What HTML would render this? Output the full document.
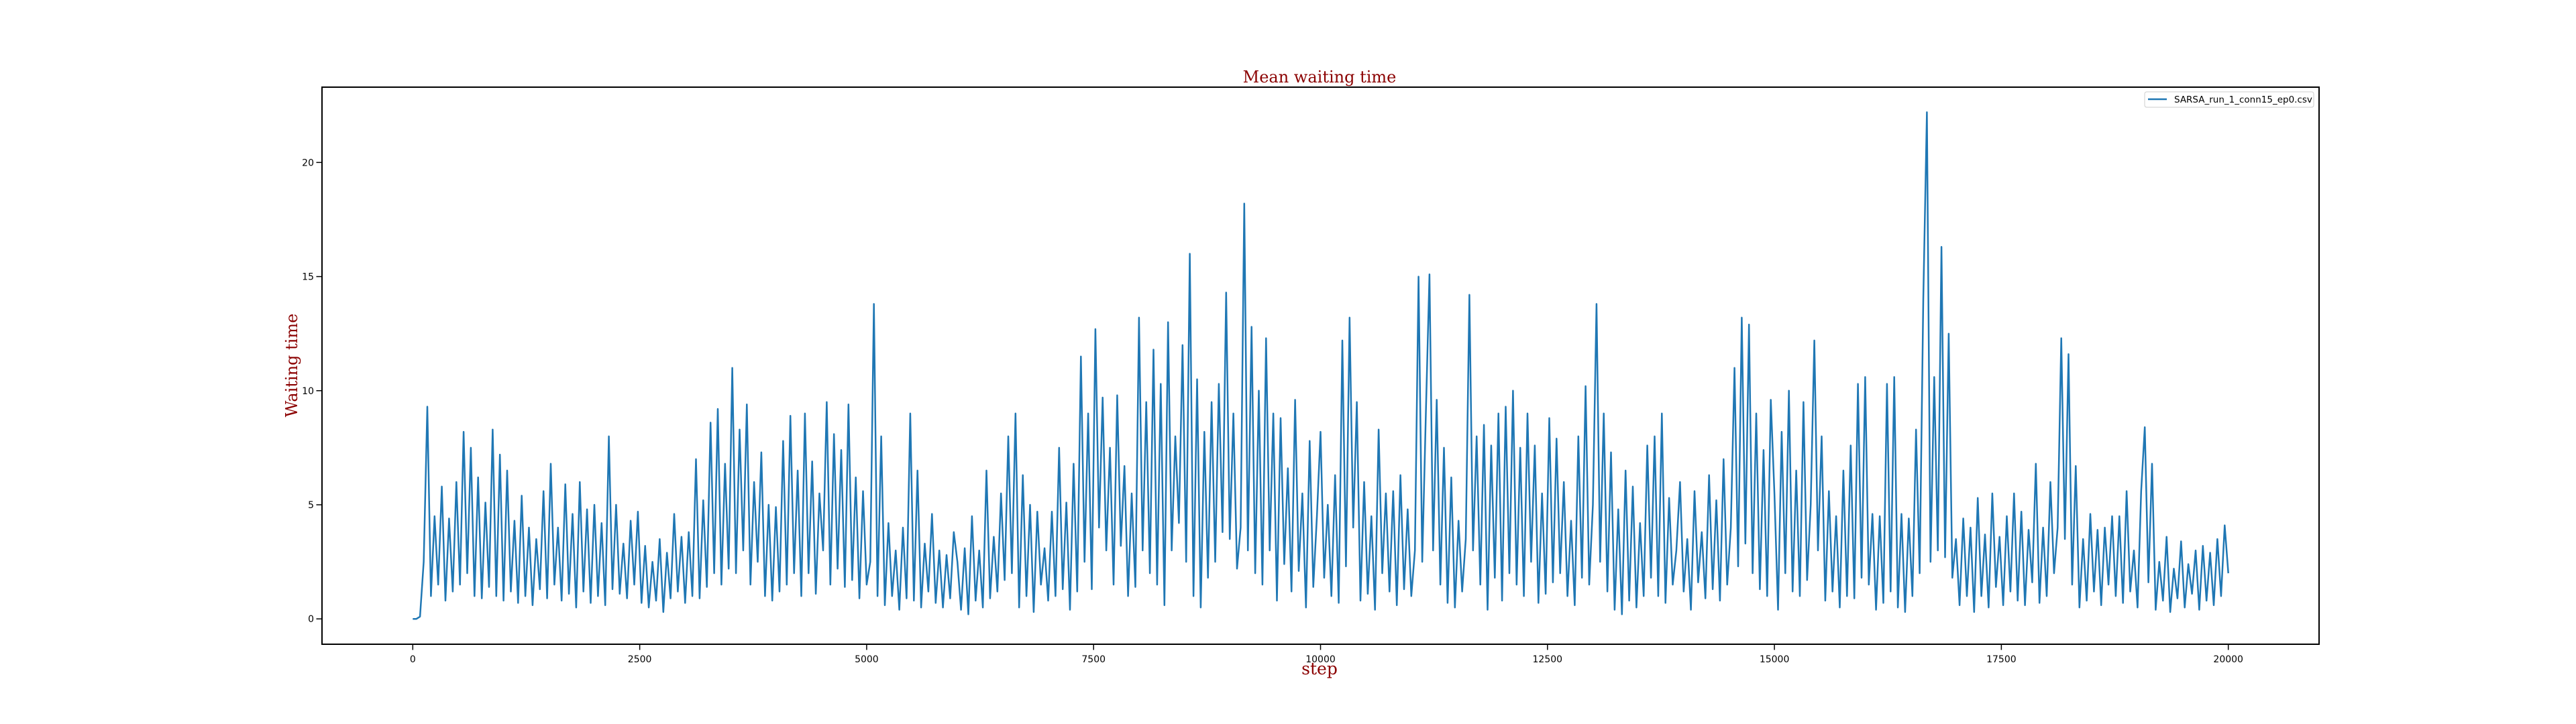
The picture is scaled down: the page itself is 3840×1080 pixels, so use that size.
<!DOCTYPE html>
<html><head><meta charset="utf-8"><style>
html,body{margin:0;padding:0;background:#fff;}
svg{display:block;}
text{font-family:"DejaVu Sans","Liberation Sans",sans-serif;}
.serif{font-family:"DejaVu Serif","Liberation Serif",serif;fill:#8b0000;}
</style></head><body>
<svg id="chart" width="3840" height="1080" viewBox="0 0 3840 1080" xmlns="http://www.w3.org/2000/svg">
<rect x="0" y="0" width="3840" height="1080" fill="#fff"/>
<g id="plot"></g>
<text class="serif" x="1967" y="123" font-size="24" text-anchor="middle">Mean waiting time</text>
<text class="serif" x="1967" y="1006" font-size="25" text-anchor="middle">step</text>
<text class="serif" x="0" y="0" font-size="24" text-anchor="middle" transform="translate(443,545) rotate(-90)">Waiting time</text>
<g>
<rect x="3197" y="137" width="252" height="23" rx="3" fill="#fff" stroke="#ccc" stroke-width="1"/>
<line x1="3202" y1="148" x2="3230" y2="148" stroke="#1f77b4" stroke-width="2.5"/>
<text x="3241" y="153" font-size="13.5">SARSA_run_1_conn15_ep0.csv</text>
</g>
</svg>
<script>
const stepSize = 40;
const waitValues = [
0,0,0.1,2.5,9.3,1.0,4.5,1.5,5.8,0.8,4.4,1.2,6.0,1.5,8.2,2.0,7.5,1.0,6.2,0.9,5.1,1.4,8.3,1.0,7.2,
0.8,6.5,1.2,4.3,0.7,5.4,1.0,4.0,0.6,3.5,1.3,5.6,0.9,6.8,1.5,4.0,0.8,5.9,1.1,4.6,0.5,6.0,1.2,4.8,0.7,
5.0,1.0,4.2,0.6,8.0,1.3,5.0,1.1,3.3,0.9,4.3,1.5,4.7,0.7,3.2,0.5,2.5,0.8,3.5,0.3,2.9,0.9,4.6,1.2,3.6,
0.7,3.8,1.0,7.0,0.9,5.2,1.4,8.6,2.0,9.2,1.5,6.8,2.2,11.0,2.0,8.3,3.0,9.4,1.5,6.0,2.5,7.3,1.0,5.0,0.8,
4.9,1.2,7.8,1.5,8.9,2.0,6.5,1.0,9.0,2.0,6.9,1.1,5.5,3.0,9.5,1.5,8.1,2.2,7.4,1.4,9.4,1.7,6.2,0.9,5.6,
1.5,2.5,13.8,1.0,8.0,0.6,4.2,1.0,3.0,0.4,4.0,0.9,9.0,0.8,6.5,0.5,3.3,1.2,4.6,0.7,3.0,0.5,2.8,0.9,3.8,
2.5,0.4,3.1,0.2,4.5,0.8,3.0,0.5,6.5,0.9,3.6,1.2,5.5,1.7,8.0,2.0,9.0,0.5,6.3,1.0,5.0,0.3,4.7,1.5,3.1,
0.8,4.7,1.0,7.5,1.3,5.1,0.4,6.8,1.2,11.5,2.5,9.0,1.3,12.7,4.0,9.7,3.0,7.5,1.5,9.8,3.2,6.7,1.0,5.5,1.4,
13.2,3.0,9.5,2.0,11.8,1.5,10.3,0.6,13.0,3.0,8.0,4.2,12.0,2.5,16.0,1.0,10.5,0.5,8.2,1.8,9.5,2.5,10.3,3.8,14.3,
3.5,9.0,2.2,4.0,18.2,3.0,12.8,2.0,10.0,1.5,12.3,3.0,9.0,0.8,8.8,2.4,6.6,1.2,9.6,2.1,5.5,0.5,7.8,1.4,4.5,
8.2,1.8,5.0,1.0,6.3,0.7,12.2,2.3,13.2,4.0,9.5,0.8,6.0,1.1,4.5,0.4,8.3,2.0,5.5,1.2,5.6,0.6,6.3,1.3,4.8,
1.0,3.0,15.0,2.5,9.0,15.1,3.0,9.6,1.5,7.5,0.7,6.2,0.5,4.3,1.2,3.5,14.2,3.0,8.0,1.5,8.5,0.4,7.6,1.8,9.0,
0.8,9.3,2.0,10.0,1.5,7.5,1.0,9.0,2.5,7.6,0.7,5.5,1.1,8.8,1.6,7.9,2.0,6.0,1.0,4.3,0.6,8.0,1.8,10.2,1.5,
5.0,13.8,2.5,9.0,1.2,7.3,0.4,4.8,0.2,6.5,0.8,5.8,0.5,4.2,1.0,7.6,1.8,8.0,1.0,9.0,0.7,5.3,1.5,3.0,6.0,
1.2,3.5,0.4,5.6,1.6,3.8,0.9,6.3,1.3,5.2,0.8,7.0,1.5,4.0,11.0,2.3,13.2,3.3,12.9,2.0,9.0,1.3,7.4,1.0,9.6,
5.5,0.4,8.2,2.0,10.0,1.2,6.5,1.0,9.5,1.7,5.0,12.2,3.0,8.0,0.8,5.6,1.2,4.5,0.5,6.5,1.0,7.6,0.9,10.3,1.8,
10.6,1.5,4.6,0.4,4.5,0.7,10.3,1.2,10.6,0.5,4.6,0.3,4.4,1.0,8.3,2.0,14.0,22.2,2.5,10.6,3.0,16.3,2.7,12.5,1.8,
3.5,0.6,4.4,1.0,4.0,0.3,5.3,1.0,3.7,0.5,5.5,1.4,3.6,0.6,4.5,1.2,5.5,0.8,4.7,0.6,3.9,1.6,6.8,0.7,4.0,
1.0,6.0,2.0,4.0,12.3,3.5,11.6,1.5,6.7,0.5,3.5,0.8,4.6,1.2,3.9,0.6,4.0,1.5,4.5,1.0,4.5,0.7,5.6,1.2,3.0,
0.5,5.6,8.4,1.6,6.8,0.4,2.5,0.8,3.6,0.3,2.2,0.9,3.4,0.5,2.4,1.1,3.0,0.4,3.2,0.8,2.9,0.6,3.5,1.0,4.1,2.0
];
const xTicks = [0,2500,5000,7500,10000,12500,15000,17500,20000];
const yTicks = [0,5,10,15,20];

const NS = "http://www.w3.org/2000/svg";
const L = 480, R = 3457, T = 130, B = 961;
const xMin = -1000, xMax = 21000, yMin = -1.11, yMax = 23.3;
function xs(v){ return L + (v - xMin) / (xMax - xMin) * (R - L); }
function ys(v){ return B - (v - yMin) / (yMax - yMin) * (B - T); }
const plot = document.getElementById('plot');
function mk(tag, attrs){ const e = document.createElementNS(NS, tag); for (const k in attrs) e.setAttribute(k, attrs[k]); return e; }

let d = '';
waitValues.forEach((v, i) => { d += (i ? 'L' : 'M') + xs(i * stepSize).toFixed(1) + ' ' + ys(v).toFixed(1); });
const line = mk('path', {d: d, fill: 'none', stroke: '#1f77b4', 'stroke-width': 2.5, 'stroke-linejoin': 'round'});


plot.appendChild(line);

const frame = mk('rect', {x: L, y: T, width: R - L, height: B - T, fill: 'none', stroke: '#000', 'stroke-width': 2});


plot.appendChild(frame);

xTicks.forEach(t => {
  const x = xs(t);
  const tk = mk('line', {x1: x, y1: B, x2: x, y2: B + 8.5, stroke: '#000', 'stroke-width': 1.5});
  
  
  plot.appendChild(tk);
  const tx = mk('text', {x: x, y: B + 27, 'font-size': 14, 'text-anchor': 'middle', fill: '#000'});
  
  
  tx.textContent = String(t);
  plot.appendChild(tx);
});
yTicks.forEach(t => {
  const y = ys(t);
  const tk = mk('line', {x1: L - 8.5, y1: y, x2: L, y2: y, stroke: '#000', 'stroke-width': 1.5});
  
  
  plot.appendChild(tk);
  const tx = mk('text', {x: L - 12, y: y + 5, 'font-size': 14, 'text-anchor': 'end', fill: '#000'});
  
  
  tx.textContent = String(t);
  plot.appendChild(tx);
});
</script>
</body></html>
